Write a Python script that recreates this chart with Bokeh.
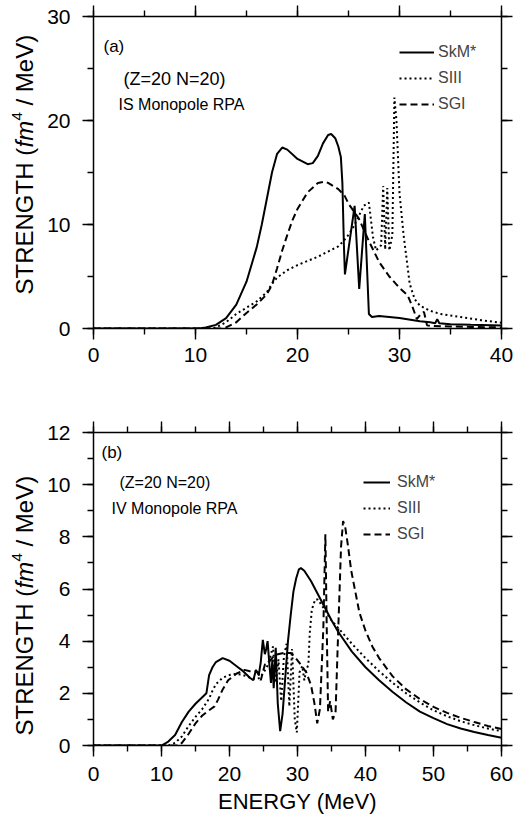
from bokeh.plotting import figure
from bokeh.models import Range1d, LinearAxis, SingleIntervalTicker, Label
from bokeh.layouts import column, row
from bokeh.embed import file_html
from bokeh.resources import INLINE

FONT = "Liberation Sans"

# ---------------- Panel (a): IS monopole, E in MeV, strength fm^4/MeV ----------------
ea_skm = [0, 10.0, 10.5, 11, 12, 13, 14, 15, 16, 16.5, 17, 17.5, 18, 18.5, 19, 20, 21, 21.5,
          22, 22.5, 23.0, 23.3, 23.7, 24.0, 24.25, 24.4, 24.55, 24.65, 25.6, 26.05, 26.6,
          27.0, 27.3, 28, 30, 32, 33, 33.5, 33.7, 33.9, 35, 37, 40]
sa_skm = [0, 0, 0.02, 0.1, 0.35, 1.0, 2.3, 4.5, 7.8, 10.0, 12.5, 15.0, 16.8, 17.4, 17.2, 16.3,
          15.8, 15.9, 16.6, 17.8, 18.6, 18.7, 18.3, 17.5, 16.5, 14.0, 8.0, 5.2, 11.8, 3.8, 11.0,
          1.4, 1.1, 1.2, 1.0, 0.7, 0.6, 0.5, 0.9, 0.5, 0.4, 0.35, 0.3]

ea_siii = [0, 11.5, 12, 13, 14, 15, 16, 17, 17.5, 18, 19, 20, 21, 22, 23, 24, 24.5, 25, 25.5,
           26, 26.5, 27.0, 27.4, 27.7, 28.2, 28.4, 28.6, 28.8, 29.0, 29.3, 29.5, 29.7, 30.0,
           30.4, 31.0, 31.5, 32, 33, 34, 36, 38, 40]
sa_siii = [0, 0, 0.1, 0.6, 1.4, 2.0, 2.6, 3.5, 4.3, 4.9, 5.6, 6.1, 6.5, 6.9, 7.4, 7.9, 8.4, 9.0,
           9.8, 10.8, 11.8, 12.1, 8.8, 7.5, 8.0, 13.7, 7.6, 13.5, 7.5, 9.0, 22.2, 20.0, 13.0,
           9.0, 4.3, 2.8, 2.2, 1.7, 1.4, 1.1, 0.8, 0.55]

ea_sgi = [0, 12.5, 13, 14, 15, 16, 17, 17.5, 18, 18.5, 19, 19.5, 20, 21, 22, 22.6, 23, 24,
          24.6, 25, 26, 27, 28, 29, 30, 30.8, 31.3, 31.7, 32.1, 32.4, 32.7, 33, 35, 37, 40]
sa_sgi = [0, 0, 0.1, 0.6, 1.5, 2.3, 3.3, 4.2, 5.8, 7.5, 9.0, 10.4, 11.5, 13.1, 14.0, 14.1, 14.0,
          13.4, 12.8, 12.0, 10.6, 8.4, 6.4, 5.0, 3.9, 3.2, 2.0, 0.9, 1.4, 1.6, 0.3, 0.25, 0.2,
          0.15, 0.1]

# ---------------- Panel (b): IV monopole ----------------
eb_skm = [0, 10, 11, 12, 13, 14, 15, 16, 16.6, 17.0, 17.5, 18, 19, 20, 21, 22, 23, 23.5, 23.9,
          24.3, 24.6, 24.9, 25.2, 25.4, 25.6, 25.9, 26.1, 26.3, 26.5, 26.8, 27.1, 27.45, 27.8,
          28.2, 28.6, 29.0, 29.4, 29.8, 30.2, 30.5, 31, 32, 33, 34, 35, 36, 38, 40, 42, 44, 46,
          48, 50, 52, 54, 56, 58, 60]
sb_skm = [0, 0, 0.15, 0.4, 0.9, 1.3, 1.6, 1.85, 2.0, 2.7, 3.0, 3.2, 3.35, 3.25, 3.05, 2.85, 2.6,
          2.5, 2.9, 2.7, 3.2, 4.05, 3.5, 3.7, 4.0, 3.0, 2.4, 3.3, 2.2, 3.75, 1.6, 0.55, 1.2, 2.6,
          4.0, 5.0, 5.9, 6.4, 6.75, 6.8, 6.7, 6.3, 5.8, 5.3, 4.8, 4.35, 3.6, 3.0, 2.5, 2.05, 1.65,
          1.3, 1.05, 0.82, 0.65, 0.52, 0.4, 0.3]

eb_siii = [0, 11, 12, 13, 14, 15, 16, 17, 17.5, 18, 19, 20, 21, 22, 23, 24, 24.5, 25, 25.5,
           26.0, 26.4, 26.8, 27.2, 27.6, 28.0, 28.4, 28.8, 29.2, 29.6, 29.9, 30.3, 30.7, 31.0,
           31.3, 31.6, 31.8, 32.1, 32.6, 33.0, 34, 35, 36, 37, 38, 40, 42, 44, 46, 48, 50, 52,
           54, 56, 58, 60]
sb_siii = [0, 0, 0.1, 0.35, 0.75, 1.1, 1.4, 1.8, 2.1, 2.35, 2.6, 2.7, 2.75, 2.7, 2.6, 2.55, 2.6,
           2.8, 3.0, 3.4, 3.8, 2.4, 3.3, 1.7, 3.4, 3.9, 1.5, 3.7, 1.0, 0.5, 2.8, 3.05, 2.5, 2.9,
           3.1, 4.3, 5.2, 5.6, 5.6, 5.2, 4.8, 4.5, 4.2, 3.9, 3.35, 2.85, 2.4, 2.0, 1.65, 1.35,
           1.12, 0.93, 0.78, 0.65, 0.55]

eb_sgi = [0, 12.5, 13, 14, 15, 16, 17, 17.8, 18.3, 19, 19.8, 21, 22.2, 23, 23.7, 24.2, 24.6,
          25.2, 25.8, 26.1, 26.6, 27.1, 28, 29.0, 29.6, 30.5, 31.3, 32.0, 32.5, 32.9, 33.3, 33.8,
          34.1, 34.3, 34.5, 34.8, 35.2, 35.6, 36.0, 36.4, 36.7, 37.0, 37.4, 37.9, 38.5, 39.1, 40,
          41, 42, 44, 46, 48, 50, 52, 54, 56, 58, 60]
sb_sgi = [0, 0, 0.1, 0.45, 0.85, 1.15, 1.35, 1.5, 1.75, 2.15, 2.5, 2.75, 2.9, 2.85, 2.85, 2.8,
          2.5, 3.1, 3.2, 3.3, 3.45, 3.5, 3.55, 3.55, 3.4, 3.1, 2.8, 2.3, 1.6, 0.85, 1.4, 4.5,
          8.1, 4.5, 1.3, 1.7, 1.0, 1.3, 4.5, 7.6, 8.6, 8.4, 7.7, 6.7, 5.9, 5.1, 4.4, 3.8, 3.35,
          2.65, 2.15, 1.78, 1.48, 1.25, 1.06, 0.9, 0.75, 0.63]

series_names = ["SkM*", "SIII", "SGI"]
dashes = ["solid", "2 3", "7 4"]

LABW = 44          # width of the strip that carries the rotated y title
MAINW = 532 - LABW


def style_axis(ax, interval, labels=True, label_standoff=8):
    ax.ticker = SingleIntervalTicker(interval=interval, num_minor_ticks=2)
    ax.axis_line_width = 1.5
    ax.axis_line_color = "black"
    ax.major_tick_line_width = 1.4
    ax.minor_tick_line_width = 1.4
    ax.major_tick_out = 11
    ax.major_tick_in = 0
    ax.minor_tick_out = 6
    ax.minor_tick_in = 0
    ax.major_label_text_font = FONT
    if labels:
        ax.major_label_text_color = "black"
        ax.major_label_text_font_size = "21px"
        ax.major_label_standoff = label_standoff
    else:
        ax.major_label_text_color = None
        ax.major_label_text_font_size = "1px"
        ax.major_label_standoff = 0


def make_panel(xs, ys, xmax, ymax, xint, yint, height, btop, bbottom, xstandoff):
    p = figure(width=MAINW, height=height, output_backend="svg", toolbar_location=None,
               x_range=Range1d(0, xmax), y_range=Range1d(0, ymax),
               min_border_left=92 - LABW, min_border_right=31,
               min_border_top=btop, min_border_bottom=bbottom)
    p.outline_line_color = None
    p.xgrid.visible = False
    p.ygrid.visible = False
    p.background_fill_color = "white"
    p.border_fill_color = "white"
    bottom = p.below[0]
    style_axis(bottom, xint, True, xstandoff)
    style_axis(p.left[0], yint, True, 12)
    top = LinearAxis()
    style_axis(top, xint, False)
    p.add_layout(top, "above")
    right = LinearAxis()
    style_axis(right, yint, False)
    p.add_layout(right, "right")
    for x, y, name, d in zip(xs, ys, series_names, dashes):
        p.line(x, y, line_color="black", line_width=2, line_dash=d, legend_label=name)
    leg = p.legend[0]
    leg.border_line_color = None
    leg.background_fill_alpha = 0
    leg.label_text_font = FONT
    leg.label_text_font_size = "16px"
    leg.label_height = 20
    leg.glyph_height = 20
    leg.spacing = 6
    leg.padding = 6
    leg.margin = 0
    return p, bottom


def add_text(p, x, y, text, size="17px", style="normal", angle=0, align="left"):
    p.add_layout(Label(x=x, y=y, x_units="screen", y_units="screen", text=text,
                       text_font=FONT, text_font_size=size, text_font_style=style,
                       text_align=align, text_baseline="middle", angle=angle,
                       angle_units="deg", text_color="black"))


def ylabel_strip(height, y0, btop, bbottom):
    # its frame lines up with the panel's frame, so y0 is measured from the panel's x axis
    s = figure(width=LABW, height=height, output_backend="svg", toolbar_location=None,
               x_axis_type=None, y_axis_type=None, x_range=Range1d(0, 1),
               y_range=Range1d(0, 1), min_border_left=0, min_border_right=0,
               min_border_top=btop, min_border_bottom=bbottom)
    s.outline_line_color = None
    s.xgrid.visible = False
    s.ygrid.visible = False
    x0 = 24
    add_text(s, x0, y0, "STRENGTH (", "24px", "normal", 90)
    add_text(s, x0, y0 + 147, "fm", "24px", "italic", 90)
    add_text(s, x0 - 8, y0 + 174, "4", "15px", "normal", 90)
    add_text(s, x0, y0 + 189, "/ MeV)", "24px", "normal", 90)
    return s


# top panel (page y 0..390)
pa, _ = make_panel([ea_skm, ea_siii, ea_sgi], [sa_skm, sa_siii, sa_sgi], 40, 30, 10, 10,
                   390, 16, 62, 8)
pa.legend[0].location = (306, 214)
pa.legend[0].glyph_width = 35
pa.legend[0].label_standoff = 4
add_text(pa, 10, 282, "(a)", "17px")
add_text(pa, 30, 250, "(Z=20  N=20)", "18px")
add_text(pa, 25, 224, "IS Monopole RPA", "16px")
sa = ylabel_strip(390, 34, 16, 62)

# bottom panel (page y 390..823)
pb, bx = make_panel([eb_skm, eb_siii, eb_sgi], [sb_skm, sb_siii, sb_sgi], 60, 12, 10, 2,
                    433, 42, 78, 10)
pb.legend[0].location = (270, 201)
pb.legend[0].glyph_width = 27
pb.legend[0].label_standoff = 7
bx.axis_label = "ENERGY (MeV)"
bx.axis_label_text_font = FONT
bx.axis_label_text_font_size = "22px"
bx.axis_label_text_font_style = "normal"
bx.axis_label_text_color = "black"
bx.axis_label_standoff = 5
add_text(pb, 8, 293, "(b)", "17px")
add_text(pb, 26, 263, "(Z=20  N=20)", "16px")
add_text(pb, 18, 237, "IV Monopole RPA", "16px")
sb = ylabel_strip(433, 10, 42, 78)

layout = column(row(sa, pa), row(sb, pb))
open("out.html", "w").write(file_html(layout, INLINE))
